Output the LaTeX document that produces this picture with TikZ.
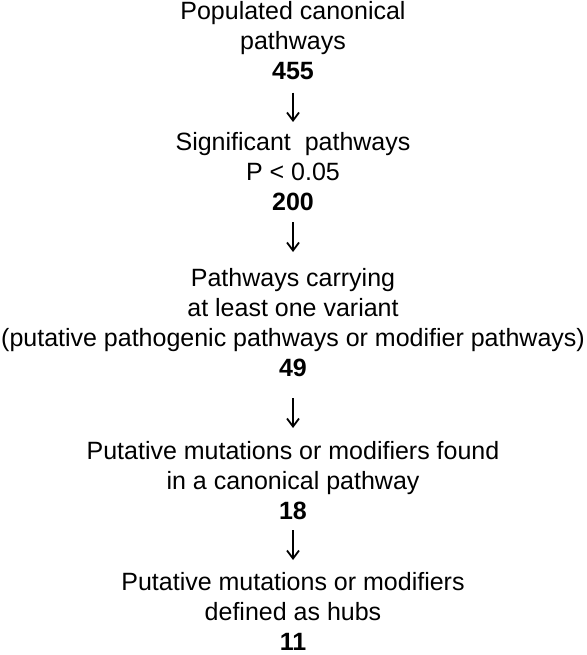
\documentclass[tikz,border=0pt]{standalone}
\usepackage{fontspec}
\setmainfont{Liberation Sans}
\usetikzlibrary{arrows.meta}
\begin{document}
\begin{tikzpicture}[x=1pt,y=1pt,
  lbl/.style={align=center, inner sep=0pt, outer sep=0pt, anchor=north,
    font=\fontsize{25pt}{30pt}\selectfont},
  flowarrow/.style={line width=1.5pt, -{Straight Barb[length=8pt,width=12pt,line width=1.8pt]}}]
\useasboundingbox[fill=white] (0,0) rectangle (586,-655);
\node[lbl] (b1) at (293,-1.2) {Populated canonical\\pathways\\\textbf{455}};
\node[lbl] (b2) at (293,-132.8) {Significant\ \ pathways\\P {\textless} 0.05\\\textbf{200}};
\node[lbl] (b3) at (293,-268.8) {Pathways carrying\\at least one variant\\(putative pathogenic pathways or modifier pathways)\\\textbf{49}};
\node[lbl] (b4) at (293,-441.8) {Putative mutations or modifiers found\\in a canonical pathway\\\textbf{18}};
\node[lbl] (b5) at (293,-572.3) {Putative mutations or modifiers\\defined as hubs\\\textbf{11}};
\draw[flowarrow] ([yshift=-13pt]b1.south) -- ([yshift=10.8pt]b2.north);
\draw[flowarrow] ([yshift=-11pt]b2.south) -- ([yshift=16.8pt]b3.north);
\draw[flowarrow] ([yshift=-21pt]b3.south) -- ([yshift=13.8pt]b4.north);
\draw[flowarrow] ([yshift=-10pt]b4.south) -- ([yshift=12.3pt]b5.north);
\end{tikzpicture}
\end{document}
